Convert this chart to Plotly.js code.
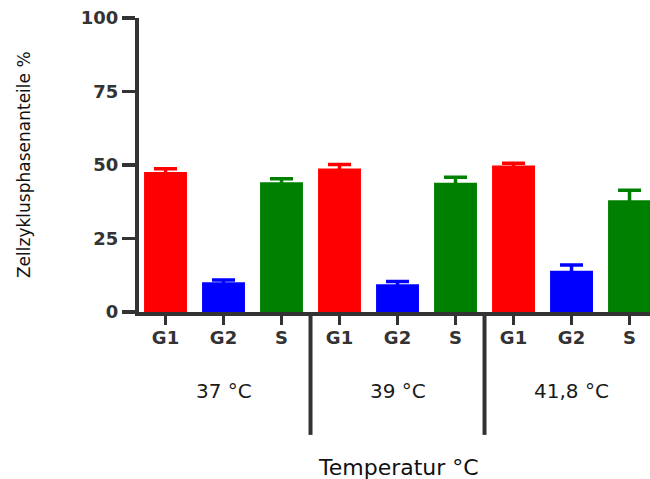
<!DOCTYPE html>
<html>
<head>
<meta charset="utf-8">
<script src="https://cdn.plot.ly/plotly-3.0.1.min.js"></script>
<style>
  html, body { margin: 0; padding: 0; background: #ffffff; }
  #chart { width: 650px; height: 479px; }
</style>
</head>
<body>
<div id="chart"></div>
<script>
// Cell-cycle phase fractions (%) per temperature, mean with SEM
const phases = ['G1', 'G2', 'S'];
const temperatures = ['37 °C', '39 °C', '41,8 °C'];

const g1Mean = [47.6, 48.8, 49.8];
const g1Err  = [1.1, 1.4, 0.8];
const g2Mean = [10.1, 9.4, 14.0];
const g2Err  = [0.8, 1.0, 2.0];
const sMean  = [44.1, 44.0, 38.0];
const sErr   = [1.2, 1.8, 3.4];

const yTicks = [0, 25, 50, 75, 100];

const phaseColors = ['#ff0000', '#0000ff', '#008000'];
const means = [g1Mean, g2Mean, sMean];
const errs = [g1Err, g2Err, sErr];

const axisColor = '#333333';
const nPhases = phases.length;

// one slot per bar: group index * phases + phase index
function slot(g, p) { return g * nPhases + p; }

const traces = phases.map((ph, p) => ({
  type: 'bar',
  name: ph,
  x: temperatures.map((t, g) => slot(g, p)),
  y: means[p],
  width: 0.74,
  marker: { color: phaseColors[p], line: { width: 0 } },
  error_y: {
    type: 'data',
    array: errs[p],
    visible: true,
    color: phaseColors[p],
    thickness: 3.5,
    width: 11.5
  },
  hoverinfo: 'skip'
}));

const tickvals = [];
const ticktext = [];
temperatures.forEach((t, g) => phases.forEach((ph, p) => {
  tickvals.push(slot(g, p));
  ticktext.push(ph);
}));

// vertical separators between temperature groups, reaching below the axis
const shapes = temperatures.slice(1).map((t, g) => ({
  type: 'line',
  xref: 'x', yref: 'paper',
  x0: slot(g + 1, 0) - 0.5, x1: slot(g + 1, 0) - 0.5,
  y0: 0, y1: -0.418,
  line: { color: axisColor, width: 4 }
}));

const groupLabels = temperatures.map((t, g) => ({
  xref: 'x', yref: 'paper',
  x: slot(g, (nPhases - 1) / 2), y: -0.27,
  text: t, showarrow: false,
  xanchor: 'center', yanchor: 'middle',
  font: { family: 'DejaVu Sans', size: 20, color: '#1a1a1a' }
}));

const titles = [
  {
    xref: 'paper', yref: 'paper',
    x: 0.507, y: -0.53,
    text: 'Temperatur °C', showarrow: false,
    xanchor: 'center', yanchor: 'middle',
    font: { family: 'DejaVu Sans', size: 22, color: '#111111' }
  },
  {
    xref: 'paper', yref: 'paper',
    x: -0.225, y: 0.5,
    text: 'Zellzyklusphasenanteile %', showarrow: false,
    textangle: -90,
    xanchor: 'center', yanchor: 'middle',
    font: { family: 'DejaVu Sans', size: 17, color: '#111111' }
  }
];

const tickFont = { family: 'DejaVu Sans', size: 18, weight: 'bold', color: axisColor };

const layout = {
  width: 650,
  height: 479,
  margin: { l: 139, r: 0, t: 18, b: 167 },
  paper_bgcolor: '#ffffff',
  plot_bgcolor: '#ffffff',
  showlegend: false,
  xaxis: {
    range: [-0.457, 8.353],
    tickvals: tickvals,
    ticktext: ticktext,
    showline: true, linewidth: 4, linecolor: axisColor,
    ticks: 'outside', ticklen: 9, tickwidth: 3.5, tickcolor: axisColor,
    ticklabelstandoff: -3,
    tickfont: tickFont,
    showgrid: false, zeroline: false, fixedrange: true
  },
  yaxis: {
    range: [0, 100],
    tickvals: yTicks,
    ticktext: yTicks.map(String),
    showline: true, linewidth: 4, linecolor: axisColor,
    ticks: 'outside', ticklen: 13, tickwidth: 3.5, tickcolor: axisColor,
    tickfont: tickFont,
    showgrid: false, zeroline: false, fixedrange: true
  },
  shapes: shapes,
  annotations: groupLabels.concat(titles)
};

Plotly.newPlot('chart', traces, layout, { staticPlot: true, displayModeBar: false });
</script>
</body>
</html>
